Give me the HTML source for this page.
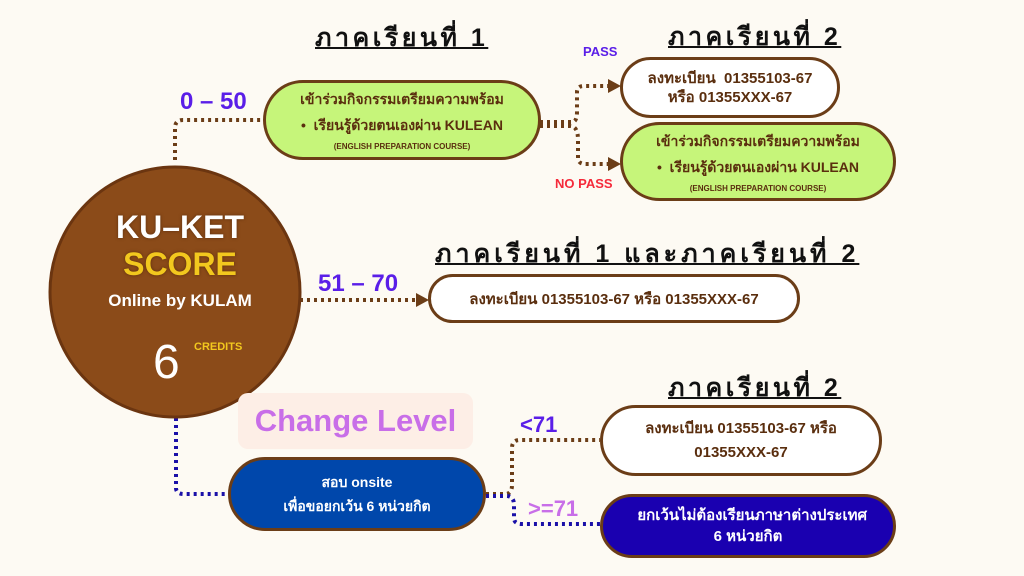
<!DOCTYPE html>
<html><head><meta charset="utf-8"><style>
*{margin:0;padding:0;box-sizing:border-box}
body{width:1024px;height:576px;background:#fdfaf3;position:relative;overflow:hidden;font-family:"Liberation Sans","DejaVu Sans",sans-serif;font-weight:bold}
.a{position:absolute}
.box{position:absolute;border:3px solid #6b3d17;border-radius:40px;display:flex;flex-direction:column;justify-content:center;align-items:center;text-align:center;color:#5a2e0e}
.h{position:absolute;font-size:25px;color:#111;text-decoration:underline;text-decoration-thickness:2px;white-space:nowrap;letter-spacing:3.5px}
.g{background:#c6f57a}
.w{background:#fff}
</style></head><body>
<svg class="a" style="left:0;top:0" width="1024" height="576">
<g fill="none" stroke-width="4" stroke-dasharray="3 4">
<path d="M175 160 V128 Q175 120 183 120 H263" stroke="#6b3d17"/>
<path d="M540 122 H572 Q577 122 577 112 V92 Q577 86 584 86 H610" stroke="#6b3d17"/>
<path d="M540 126 H570 Q578 126 578 140 V158 Q578 164 586 164 H610" stroke="#6b3d17"/>
<path d="M300 300 H418" stroke="#6b3d17"/>
<path d="M176 418 V488 Q176 494 184 494 H228" stroke="#1a10a8"/>
<path d="M486 494 H505 Q512 494 512 485 V448 Q512 440 520 440 H600" stroke="#6b3d17"/>
<path d="M486 496 H506 Q514 496 514 505 V518 Q514 524 522 524 H600" stroke="#1a10a8"/>
</g>
<g fill="#6b3d17">
<path d="M608 79 L621 86 L608 93Z"/><path d="M608 157 L621 164 L608 171Z"/><path d="M416 293 L429 300 L416 307Z"/>
</g>
<circle cx="175" cy="292" r="125" fill="#8b4b19" stroke="#6b3510" stroke-width="3"/>
</svg>
<div class="a" style="left:90px;top:209px;width:180px;text-align:center;color:#fff;font-size:32px;text-shadow:0 0 3px #5a2e0e">KU–KET</div>
<div class="a" style="left:90px;top:246px;width:180px;text-align:center;color:#f2c81e;font-size:32px;text-shadow:0 0 3px #5a2e0e">SCORE</div>
<div class="a" style="left:80px;top:291px;width:200px;text-align:center;color:#fff;font-size:17px">Online by KULAM</div>
<div class="a" style="left:153px;top:335px;color:#fff;font-size:48px;font-weight:normal">6</div>
<div class="a" style="left:194px;top:341px;color:#f2c81e;font-size:11px">CREDITS</div>

<div class="h" style="left:315px;top:18px">ภาคเรียนที่ 1</div>
<div class="h" style="left:668px;top:17px">ภาคเรียนที่ 2</div>
<div class="h" style="left:435px;top:234px;letter-spacing:4px">ภาคเรียนที่ 1 และภาคเรียนที่ 2</div>
<div class="h" style="left:668px;top:368px">ภาคเรียนที่ 2</div>

<div class="a" style="left:180px;top:88px;color:#5a1ee8;font-size:24px">0 – 50</div>
<div class="a" style="left:583px;top:44px;color:#5a1ee8;font-size:13px">PASS</div>
<div class="a" style="left:555px;top:176px;color:#f52a3a;font-size:13px">NO PASS</div>
<div class="a" style="left:318px;top:270px;color:#5a1ee8;font-size:24px">51 – 70</div>
<div class="a" style="left:520px;top:412px;color:#5a1ee8;font-size:22px">&lt;71</div>
<div class="a" style="left:528px;top:496px;color:#c86ee8;font-size:22px">&gt;=71</div>

<div class="box g" style="left:263px;top:80px;width:278px;height:80px">
<div style="font-size:14px">เข้าร่วมกิจกรรมเตรียมความพร้อม</div>
<div style="font-size:14px;margin-top:4px">•&nbsp; เรียนรู้ด้วยตนเองผ่าน KULEAN</div>
<div style="font-size:8px;margin-top:5px">(ENGLISH PREPARATION COURSE)</div>
</div>
<div class="box w" style="left:620px;top:57px;width:220px;height:61px;font-size:15px;line-height:19px">ลงทะเบียน&nbsp; 01355103-67<br>หรือ 01355XXX-67</div>
<div class="box g" style="left:620px;top:122px;width:276px;height:79px">
<div style="font-size:14px">เข้าร่วมกิจกรรมเตรียมความพร้อม</div>
<div style="font-size:14px;margin-top:4px">•&nbsp; เรียนรู้ด้วยตนเองผ่าน KULEAN</div>
<div style="font-size:8px;margin-top:5px">(ENGLISH PREPARATION COURSE)</div>
</div>
<div class="box w" style="left:428px;top:274px;width:372px;height:49px;font-size:15px">ลงทะเบียน 01355103-67 หรือ 01355XXX-67</div>

<div class="a" style="left:238px;top:393px;width:235px;height:56px;background:#fdeee6;border-radius:10px;color:#c86ee8;font-size:31px;text-align:center;line-height:56px">Change Level</div>
<div class="box" style="left:228px;top:457px;width:258px;height:74px;background:#0047ab;color:#fff;font-size:14px;line-height:24px">สอบ onsite<br>เพื่อขอยกเว้น 6 หน่วยกิต</div>
<div class="box w" style="left:600px;top:405px;width:282px;height:71px;font-size:15px;line-height:24px">ลงทะเบียน 01355103-67 หรือ<br>01355XXX-67</div>
<div class="box" style="left:600px;top:494px;width:296px;height:64px;background:#1a00b0;color:#fff;font-size:15px;line-height:21px">&nbsp;&nbsp;ยกเว้นไม่ต้องเรียนภาษาต่างประเทศ<br>6 หน่วยกิต</div>
</body></html>
